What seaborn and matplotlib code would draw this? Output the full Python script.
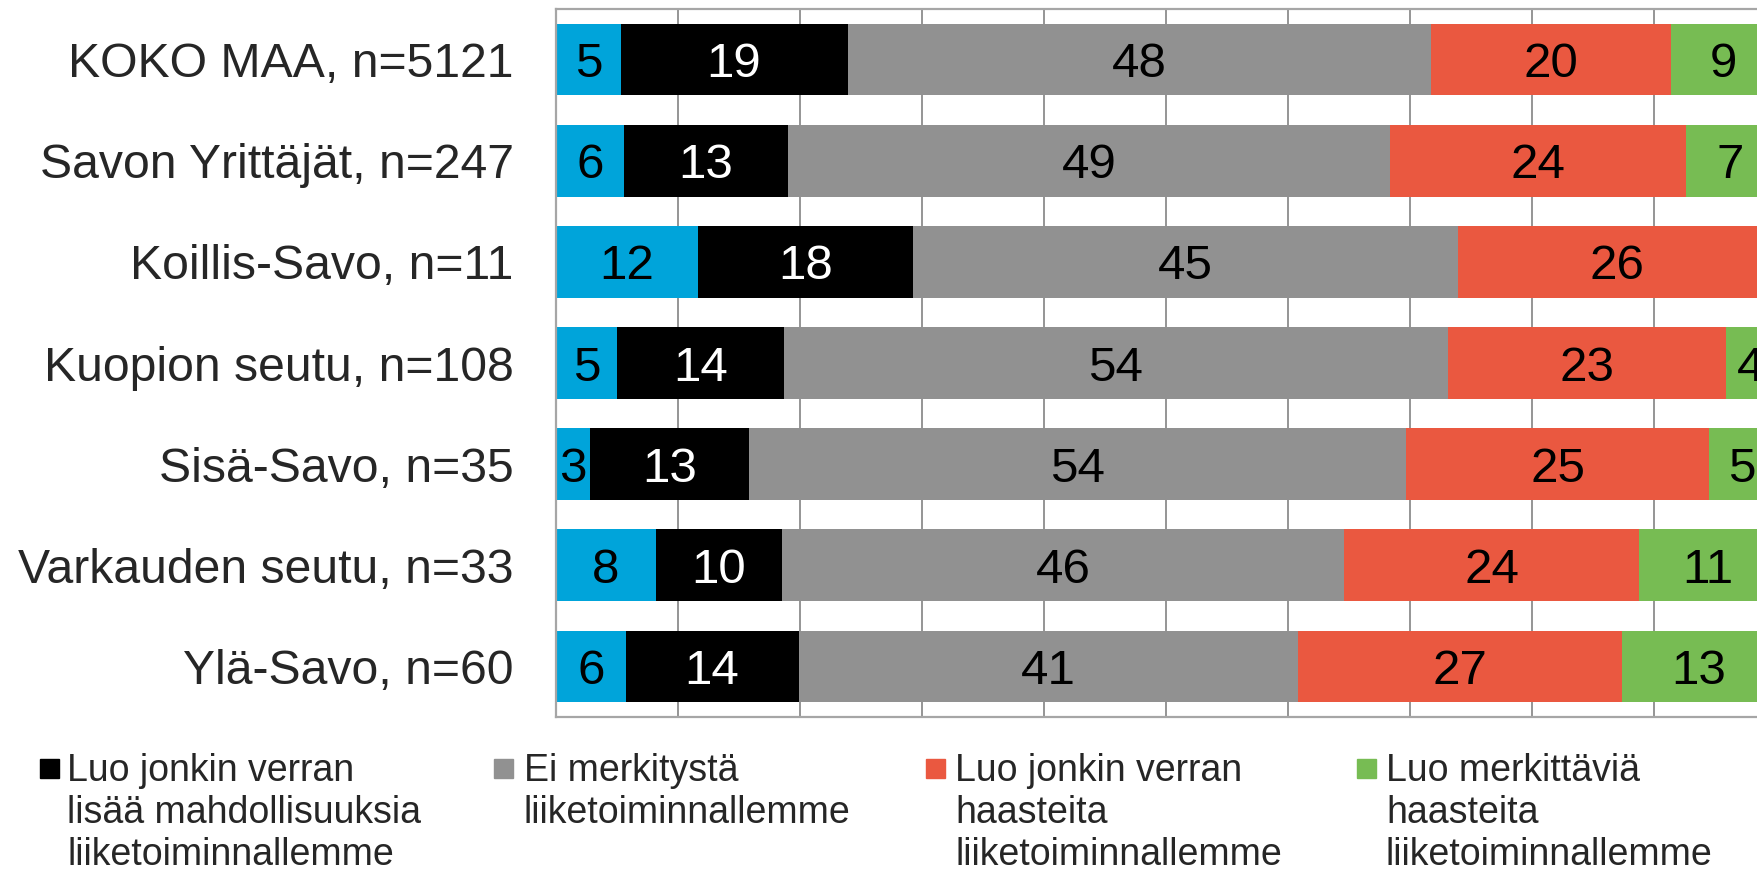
import numpy as np
import seaborn as sns
import matplotlib.pyplot as plt
from matplotlib.patches import Rectangle

# data (%); labels are rounded
regions = ['KOKO MAA, n=5121', 'Savon Yrittäjät, n=247', 'Koillis-Savo, n=11',
           'Kuopion seutu, n=108', 'Sisä-Savo, n=35', 'Varkauden seutu, n=33',
           'Ylä-Savo, n=60']
luo_merkittavia_mahd = [5.3, 5.6, 11.6, 5.0, 2.8, 8.2, 5.7]
luo_jonkin_mahd = [18.6, 13.4, 17.7, 13.7, 13.0, 10.3, 14.2]
ei_merkitysta = [47.8, 49.4, 44.6, 54.4, 53.9, 46.1, 40.9]
luo_jonkin_haast = [19.7, 24.2, 26.1, 22.8, 24.8, 24.2, 26.6]
luo_merkittavia_haast = [8.6, 7.3, 0.0, 4.1, 5.4, 11.2, 12.6]

colors = ['#00a4da', '#000000', '#919191', '#ea5840', '#77bc53']
label_colors = ['black', 'white', 'black', 'black', 'black']
legend_labels = ['Luo jonkin verran\nlisää mahdollisuuksia\nliiketoiminnallemme',
                 'Ei merkitystä\nliiketoiminnallemme',
                 'Luo jonkin verran\nhaasteita\nliiketoiminnallemme',
                 'Luo merkittäviä\nhaasteita\nliiketoiminnallemme']

sns.set_style('white')
plt.rcParams['font.family'] = ['Liberation Sans', 'DejaVu Sans']

W, H = 1758, 869
fig = plt.figure(figsize=(W / 100, H / 100), dpi=100)
ax = fig.add_axes([556 / W, 1 - 717 / H, 1220 / W, 708 / H])

values = np.array([luo_merkittavia_mahd, luo_jonkin_mahd, ei_merkitysta,
                   luo_jonkin_haast, luo_merkittavia_haast]).T
cum = np.cumsum(values, axis=1)

# stacked bars: draw cumulative totals from the last series to the first
for i in range(values.shape[1] - 1, -1, -1):
    sns.barplot(x=cum[:, i], y=regions, color=colors[i], saturation=1,
                width=0.71, linewidth=0, orient='y', ax=ax, zorder=2)

for j in range(len(regions)):
    for i in range(values.shape[1]):
        v = values[j, i]
        if v > 0:
            ax.text(cum[j, i] - v / 2, j, f'{v:.0f}', ha='center', va='center_baseline',
                    fontsize=35.5, color=label_colors[i], zorder=3)

ax.set_xlim(0, 100)
ax.set_xticks(range(0, 101, 10))
ax.grid(axis='x', color='#8c8c8c', linewidth=1.3)
ax.set_axisbelow(True)
ax.set_xlabel('')
ax.set_ylabel('')
ax.tick_params(axis='x', length=0, labelbottom=False)
ax.tick_params(axis='y', length=0, pad=30.5, labelsize=34.7)
for s in ['left', 'top', 'bottom', 'right']:
    ax.spines[s].set_color('#a6a6a6')
    ax.spines[s].set_linewidth(1.6)

# legend (first entry is cut off in the original, only four shown)
marker_x = [40, 494, 926, 1357]
text_x = [67, 524, 955, 1386]
baselines = [781, 823, 865]
for k in range(4):
    fig.patches.append(Rectangle((marker_x[k] / W, 1 - 778 / H), 19 / W, 19 / H,
                                 transform=fig.transFigure, color=colors[k + 1]))
    for n, line in enumerate(legend_labels[k].split('\n')):
        fig.text(text_x[k] / W, 1 - baselines[n] / H, line, fontsize=27,
                 ha='left', va='baseline')

fig.savefig('out.png', dpi=100)
